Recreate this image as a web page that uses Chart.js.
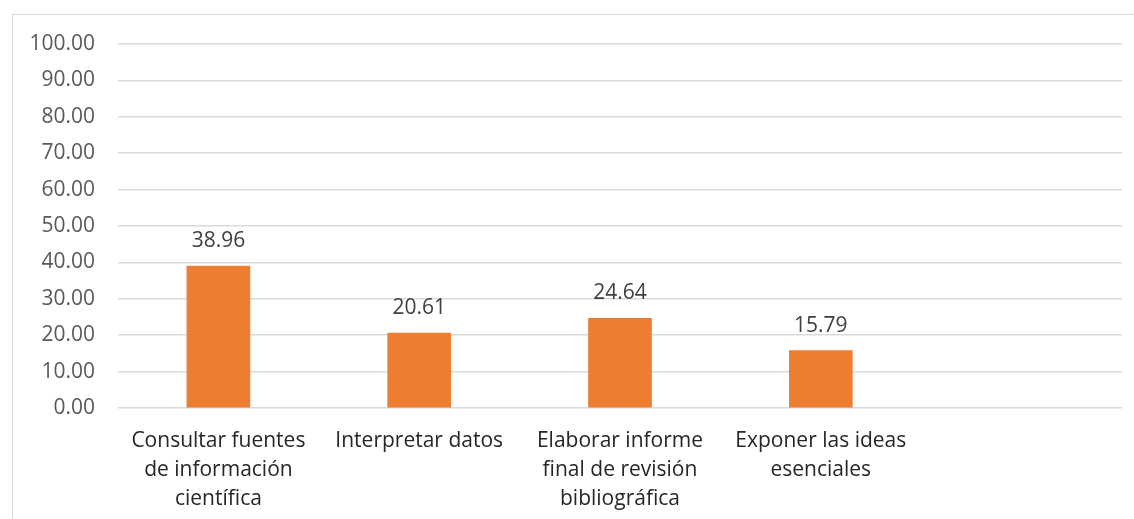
<!DOCTYPE html>
<html>
<head>
<meta charset="utf-8">
<script src="https://cdn.jsdelivr.net/npm/chart.js@4"></script>
<style>
  html, body { margin: 0; padding: 0; background: #fff; }
  #wrap { position: relative; width: 1134px; height: 519px; overflow: hidden; }
  #frame { position: absolute; left: 12px; top: 14px; width: 1140px; height: 520px; border: 1px solid #d9d9d9; box-sizing: border-box; }
  #myChart { position: absolute; left: 0; top: 0; }
</style>
</head>
<body>
<div id="wrap">
  <div id="frame"></div>
  <canvas id="myChart" width="1134" height="519"></canvas>
</div>
<script>
// categories (last slot is empty in the original)
const categories = [
    ['Consultar fuentes', 'de información', 'científica'],
    ['Interpretar datos'],
    ['Elaborar informe', 'final de revisión', 'bibliográfica'],
    ['Exponer las ideas', 'esenciales'],
    ''
];
const values = [38.96, 20.61, 24.64, 15.79, null];
const yTicks = [0, 10, 20, 30, 40, 50, 60, 70, 80, 90, 100];

const fontFamily = "'Open Sans', 'Noto Sans', sans-serif";

// draws the value above each bar
const valueLabels = {
    id: 'valueLabels',
    afterDatasetsDraw(chart) {
        const ctx = chart.ctx;
        const meta = chart.getDatasetMeta(0);
        ctx.save();
        ctx.font = '21px ' + fontFamily;
        ctx.fillStyle = '#404040';
        ctx.textAlign = 'center';
        ctx.textBaseline = 'middle';
        meta.data.forEach((bar, i) => {
            if (values[i] == null) return;
            ctx.fillText(values[i].toFixed(2), bar.x, bar.y - 25);
        });
        ctx.restore();
    }
};

const ctx = document.getElementById('myChart').getContext('2d');
const myChart = new Chart(ctx, {
    type: 'bar',
    data: {
        labels: categories,
        datasets: [{
            data: values,
            backgroundColor: '#ED7D31',
            borderWidth: 0,
            barThickness: 63
        }]
    },
    options: {
        responsive: false,
        animation: false,
        layout: { padding: { top: 44, right: 12, left: 0, bottom: 0 } },
        plugins: {
            legend: { display: false },
            tooltip: { enabled: false }
        },
        scales: {
            x: {
                grid: { display: false, drawTicks: false },
                border: { display: false },
                ticks: {
                    color: '#262626',
                    maxRotation: 0,
                    autoSkip: false,
                    padding: 19,
                    font: { family: fontFamily, size: 21, lineHeight: '29px' }
                },
                afterFit: scale => { scale.height = 111; }
            },
            y: {
                min: 0,
                max: 100,
                afterBuildTicks: scale => { scale.ticks = yTicks.map(v => ({ value: v })); },
                grid: { color: '#d9d9d9', lineWidth: 1.5, drawTicks: false },
                border: { display: false },
                ticks: {
                    color: '#595959',
                    padding: 23,
                    callback: v => v.toFixed(2),
                    font: { family: fontFamily, size: 21 }
                },
                afterFit: scale => { scale.width = 118; }
            }
        }
    },
    plugins: [valueLabels]
});
</script>
</body>
</html>
